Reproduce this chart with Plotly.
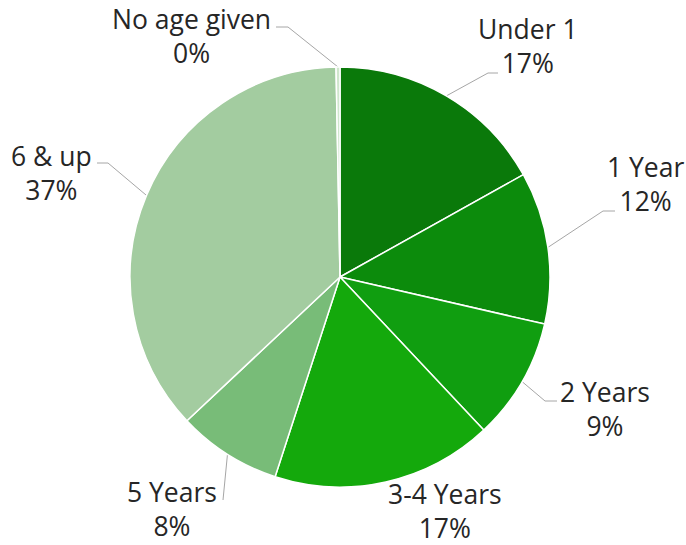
import math
import plotly.graph_objects as go

# ---- data ----
categories = ["Under 1", "1 Year", "2 Years", "3-4 Years", "5 Years", "6 & up", "No age given"]
values = [16.9, 11.7, 9.4, 17.0, 8.0, 36.7, 0.3]

# ---- styles ----
colors = ["#0a790a", "#0c8b0c", "#109e10", "#14a90c", "#78bc78", "#a3cca0", "#cfe6cc"]
W, H = 686, 545
CX, CY, R = 340, 277, 210
FONT = "Open Sans"
# label block centre (px) per category
label_pos = {
    "Under 1": (528, 46),
    "1 Year": (645, 184),
    "2 Years": (605, 409),
    "3-4 Years": (445, 511),
    "5 Years": (172, 509),
    "6 & up": (51, 173),
    "No age given": (191, 36),
}
leader = {  # elbow point, end point (px); None => no leader line
    "Under 1": ((488, 73), (498, 73)),
    "1 Year": ((603, 211), (615, 211)),
    "2 Years": ((545, 401), (557, 401)),
    "3-4 Years": None,
    "5 Years": ((223, 500), (223, 500)),
    "6 & up": ((108, 163), (97, 163)),
    "No age given": ((288, 27), (276, 27)),
}

fig = go.Figure()
fig.add_trace(go.Pie(
    labels=categories, values=values, sort=False, direction="clockwise", rotation=0,
    marker=dict(colors=colors, line=dict(color="white", width=1.5)),
    textinfo="none", hoverinfo="label+percent", showlegend=False,
    domain=dict(x=[(CX - R) / W, (CX + R) / W], y=[1 - (CY + R) / H, 1 - (CY - R) / H]),
))

total = sum(values)
cum = 0.0
annotations = []
for cat, v in zip(categories, values):
    mid = (cum + v / 2) / total
    cum += v
    ang = 2 * math.pi * mid
    ax_, ay_ = CX + R * math.sin(ang), CY - R * math.cos(ang)
    pct = round(100 * v / total)
    lx, ly = label_pos[cat]
    annotations.append(dict(x=lx, y=ly, xref="x", yref="y", text=f"{cat}<br>{pct}%",
                            showarrow=False, xanchor="center", yanchor="middle",
                            font=dict(family=FONT, size=26.5, color="#262626")))
    if leader[cat] is not None:
        (ex, ey), (tx, ty) = leader[cat]
        fig.add_trace(go.Scatter(x=[ax_, ex, tx], y=[ay_, ey, ty], mode="lines",
                                 line=dict(color="#a6a6a6", width=1),
                                 hoverinfo="skip", showlegend=False))

fig.update_layout(
    width=W, height=H, margin=dict(l=0, r=0, t=0, b=0),
    paper_bgcolor="white", plot_bgcolor="rgba(0,0,0,0)",
    xaxis=dict(range=[0, W], visible=False, fixedrange=True),
    yaxis=dict(range=[H, 0], visible=False, fixedrange=True),
    annotations=annotations,
)
fig.write_html("out.html", config={"displayModeBar": False},
               post_script="document.body.style.margin='0';document.body.style.overflow='hidden';")
